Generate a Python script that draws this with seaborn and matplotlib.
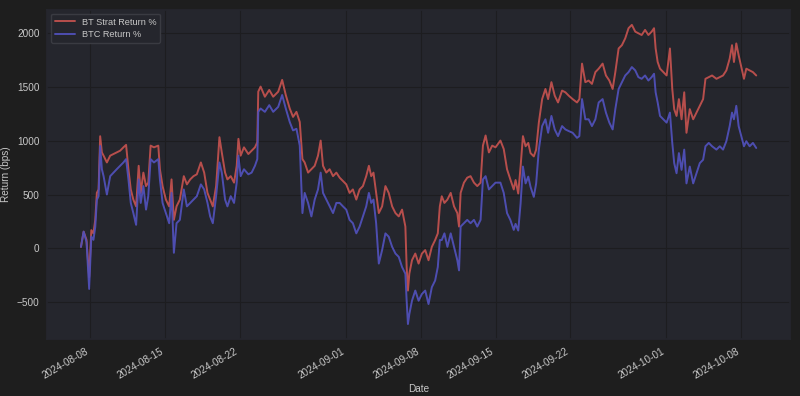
import numpy as np
import pandas as pd
import seaborn as sns
import matplotlib.pyplot as plt
import matplotlib.dates as mdates

# days after 2024-08-08 00:00
days = [
    -0.87, -0.62, -0.35, -0.10, 0.10, 0.30, 0.47, 0.62, 0.78, 0.93,
    1.09, 1.25, 1.56, 1.87, 2.18, 2.49, 2.80, 3.11, 3.36, 3.58,
    3.80, 4.04, 4.30, 4.54, 4.73, 4.98, 5.23, 5.44, 5.66, 5.97,
    6.38, 6.53, 6.78, 7.09, 7.40, 7.62, 7.84, 8.09, 8.40, 8.77,
    9.06, 9.37, 9.68, 9.99, 10.37, 10.68, 10.99, 11.24, 11.49, 11.80,
    12.11, 12.33, 12.64, 12.86, 13.17, 13.48, 13.73, 13.89, 14.10, 14.41,
    14.82, 15.13, 15.44, 15.66, 15.75, 15.97, 16.37, 16.78, 17.15, 17.62,
    17.99, 18.33, 18.70, 19.01, 19.33, 19.64, 19.89, 20.10, 20.42, 20.73,
    21.04, 21.35, 21.60, 21.82, 22.13, 22.44, 22.76, 23.07, 23.38, 23.69,
    24.00, 24.31, 24.62, 24.94, 25.25, 25.56, 25.87, 26.12, 26.34, 26.55,
    26.80, 27.05, 27.36, 27.67, 27.98, 28.30, 28.61, 28.92, 29.23, 29.54,
    29.66, 29.78, 29.91, 30.16, 30.47, 30.78, 31.09, 31.40, 31.71, 32.02,
    32.33, 32.58, 32.77, 32.95, 33.20, 33.48, 33.79, 34.10, 34.41, 34.57,
    34.72, 35.03, 35.34, 35.65, 35.97, 36.28, 36.59, 36.81, 37.06, 37.37,
    37.68, 37.99, 38.45, 38.76, 39.07, 39.38, 39.70, 39.87, 40.12, 40.34,
    40.56, 40.81, 41.06, 41.27, 41.58, 41.80, 42.05, 42.36, 42.67, 42.92,
    43.23, 43.54, 43.85, 44.23, 44.54, 44.85, 45.22, 45.63, 45.85, 46.10,
    46.41, 46.72, 47.03, 47.35, 47.66, 48.03, 48.34, 48.66, 48.97, 49.22,
    49.53, 49.84, 50.15, 50.46, 50.77, 51.09, 51.38, 51.69, 52.01, 52.32,
    52.63, 52.85, 53.00, 53.19, 53.41, 53.72, 54.03, 54.34, 54.56, 54.74,
    54.96, 55.18, 55.43, 55.68, 55.89, 56.20, 56.52, 56.83, 57.14, 57.45,
    57.67, 57.98, 58.29, 58.70, 59.01, 59.32, 59.63, 59.94, 60.16, 60.34,
    60.56, 60.78, 61.03, 61.28, 61.50, 61.81, 62.12, 62.43,
]

strat_bps = [
    15, 156, 80, -265, 170, 140, 265, 515, 547, 1040,
    890, 860, 797, 860, 875, 890, 906, 937, 960, 734,
    547, 453, 390, 766, 515, 703, 578, 610, 953, 937,
    953, 734, 578, 453, 390, 640, 265, 390, 453, 670,
    594, 640, 670, 687, 797, 703, 515, 453, 390, 578,
    1031, 890, 703, 640, 670, 610, 766, 1016, 860, 937,
    875, 906, 937, 984, 1453, 1500, 1406, 1469, 1406, 1453,
    1562, 1422, 1297, 1219, 1266, 1172, 828, 797, 703, 734,
    766, 860, 1000, 766, 703, 734, 670, 703, 656, 625,
    594, 515, 547, 453, 547, 578, 670, 766, 670, 703,
    515, 328, 390, 578, 515, 390, 328, 297, 360, 203,
    -172, -390, -234, -109, -47, -140, -47, -15, -109, 15,
    78, 140, 390, 484, 422, 453, 515, 390, 328, 203,
    515, 610, 656, 670, 610, 578, 610, 953, 1047, 890,
    953, 937, 1000, 922, 734, 640, 547, 634, 509, 759,
    1041, 947, 978, 884, 853, 916, 1166, 1384, 1478, 1384,
    1541, 1416, 1353, 1463, 1447, 1416, 1384, 1353, 1384, 1713,
    1541, 1556, 1525, 1634, 1666, 1713, 1603, 1556, 1478, 1634,
    1853, 1884, 1947, 2041, 2072, 2009, 1994, 1978, 2025, 1978,
    2009, 2041, 1853, 1728, 1666, 1634, 1603, 1853, 1478, 1291,
    1228, 1384, 1197, 1447, 1072, 1291, 1197, 1259, 1322, 1384,
    1572, 1588, 1603, 1572, 1588, 1603, 1650, 1759, 1884, 1728,
    1900, 1791, 1681, 1572, 1666, 1650, 1634, 1603,
]

btc_bps = [
    15, 156, 60, -375, 110, 80, 200, 450, 485, 950,
    735, 670, 500, 670, 703, 735, 766, 797, 828, 640,
    422, 328, 219, 640, 422, 578, 360, 485, 828, 797,
    828, 640, 422, 328, 234, 515, -40, 234, 265, 547,
    390, 422, 453, 484, 594, 547, 422, 297, 234, 485,
    797, 703, 453, 390, 485, 422, 610, 860, 670, 734,
    687, 703, 766, 828, 1266, 1297, 1266, 1328, 1266, 1312,
    1422, 1297, 1172, 1094, 1109, 953, 328, 515, 422, 297,
    453, 547, 703, 515, 453, 390, 328, 422, 422, 390,
    360, 265, 234, 140, 203, 297, 390, 515, 422, 453,
    234, -140, -15, 140, 109, 15, -47, -78, -172, -234,
    -484, -700, -609, -484, -390, -484, -422, -390, -515, -359,
    -297, -172, 78, 78, 140, 15, 140, 15, -109, -203,
    203, 234, 265, 234, 265, 203, 265, 640, 670, 547,
    578, 610, 610, 515, 328, 265, 172, 228, 166, 416,
    759, 603, 666, 572, 478, 603, 916, 1134, 1197, 1072,
    1228, 1103, 1041, 1134, 1103, 1088, 1072, 1025, 1041, 1384,
    1197, 1197, 1134, 1197, 1353, 1384, 1259, 1166, 1103, 1291,
    1478, 1541, 1603, 1634, 1681, 1650, 1588, 1572, 1603, 1556,
    1588, 1619, 1447, 1353, 1228, 1197, 1166, 1259, 978, 791,
    697, 884, 728, 916, 603, 759, 603, 697, 791, 822,
    947, 978, 947, 916, 947, 916, 994, 1134, 1259, 1197,
    1322, 1134, 1041, 947, 994, 947, 978, 931,
]

start = pd.Timestamp("2024-08-08")
dates = start + pd.to_timedelta(days, unit="D")

df = pd.concat([
    pd.DataFrame({"Date": dates, "Return": strat_bps, "series": "BT Strat Return %"}),
    pd.DataFrame({"Date": dates, "Return": btc_bps, "series": "BTC Return %"}),
])

sns.set_theme(style="darkgrid", rc={
    "figure.facecolor": "#1e1e1e",
    "axes.facecolor": "#25262d",
    "grid.color": "#1d1d20",
    "grid.linewidth": 0.8,
    "text.color": "#c8c8c8",
    "axes.labelcolor": "#c8c8c8",
    "xtick.color": "#c8c8c8",
    "ytick.color": "#c8c8c8",
    "axes.edgecolor": "#25262d",
})
plt.rcParams["font.family"] = ["Liberation Sans", "DejaVu Sans"]

fig = plt.figure(figsize=(8, 3.96), dpi=100)
ax = fig.add_axes([0.059, 0.144, 0.9285, 0.831])

palette = {"BT Strat Return %": "#c0514e", "BTC Return %": "#5050b8"}
sns.lineplot(data=df, x="Date", y="Return", hue="series", palette=palette,
             linewidth=1.4, alpha=0.95, ax=ax)

ax.set_xlabel("Date", fontsize=7.2, labelpad=2)
ax.set_ylabel("Return (bps)", fontsize=7.2, labelpad=4)
ax.tick_params(labelsize=7.2, length=0, pad=5.5)
ax.set_yticks([-500, 0, 500, 1000, 1500, 2000])

ticks = pd.to_datetime(["2024-08-08", "2024-08-15", "2024-08-22", "2024-09-01",
                        "2024-09-08", "2024-09-15", "2024-09-22", "2024-10-01",
                        "2024-10-08"])
ax.set_xticks(ticks)
ax.xaxis.set_major_formatter(mdates.DateFormatter("%Y-%m-%d"))
plt.setp(ax.get_xticklabels(), rotation=30, ha="right")

leg = ax.legend(loc="upper left", fontsize=6.6, facecolor="#25262d",
                edgecolor="#3a3b42", framealpha=1, labelcolor="#c8c8c8",
                handlelength=2.2, handletextpad=0.7, borderpad=0.45,
                labelspacing=0.35, borderaxespad=0.4)
leg.set_title(None)

fig.savefig("out.png", dpi=100, facecolor=fig.get_facecolor())
